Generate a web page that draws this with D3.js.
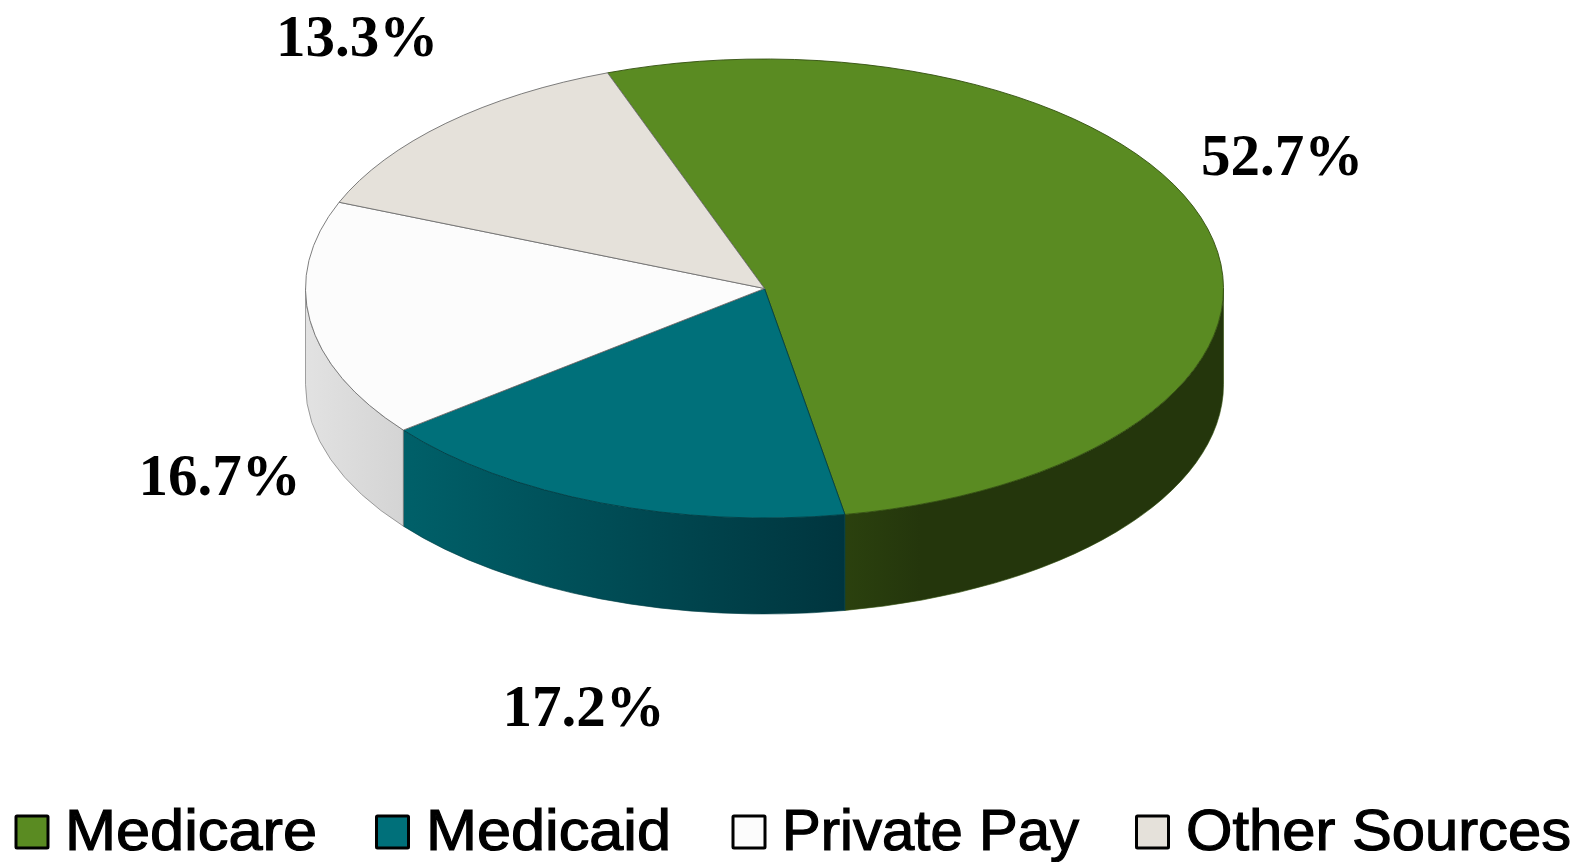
<!DOCTYPE html>
<html><head><meta charset="utf-8">
<script src="https://cdn.jsdelivr.net/npm/d3@7/dist/d3.min.js"></script>
<style>html,body{margin:0;padding:0;background:#fff;overflow:hidden}svg{display:block}</style>
</head><body><svg id="c" width="1575" height="862"></svg>
<script>
const categories=["Medicare","Medicaid","Private Pay","Other Sources"];
const shares=[52.7,17.2,16.7,13.3];
const shareLabels=["52.7%","17.2%","16.7%","13.3%"];
const topColors=["#5a8b22","#00707a","#fcfcfc","#e5e1da"];
const sideStart=["#2b410e","#006069","#e2e2e2","#c8c5bf"];
const sideEnd=["#24360c","#00353e","#d4d4d4","#c8c5bf"];
const edgeColors=["#33500f","#003f46","#707070","#707070"];
const labelX=[1282,583.5,219.5,357];
const labelY=[175,726,495,56];
const legendSwatchX=[16,376.5,733,1136.5];
const legendTextX=[65,426,782,1186];
const legendTextW=[252,245,297,385];

const cx=764.5,cy=288.5,rx=459,ry=229.5,depth=96;
const svg=d3.select("#c");
const defs=svg.append("defs");
const startAngle=-20*Math.PI/180;
const pie=d3.pie().value(d=>d).sort(null).startAngle(startAngle).endAngle(startAngle+2*Math.PI);
const arcs=pie(shares);
const px=d3.scaleLinear().domain([-1,1]).range([cx-rx,cx+rx]);
const py=d3.scaleLinear().domain([-1,1]).range([cy-ry,cy+ry]);
const ptX=a=>px(Math.sin(a)), ptY=a=>py(-Math.cos(a));

// side walls: only the part of each slice facing the viewer (angles PI/2..3PI/2)
arcs.forEach((d,i)=>{
  const a0=Math.max(d.startAngle,Math.PI/2), a1=Math.min(d.endAngle,3*Math.PI/2);
  if(a1<=a0) return;
  const x0=ptX(a0),x1=ptX(a1),y0=ptY(a0),y1=ptY(a1);
  const left=Math.min(x0,x1), right=Math.max(x0,x1);
  const g=defs.append("linearGradient").attr("id","side"+i)
    .attr("gradientUnits","userSpaceOnUse")
    .attr("x1",left).attr("x2",right).attr("y1",0).attr("y2",0);
  g.append("stop").attr("offset",0).attr("stop-color",sideStart[i]);
  g.append("stop").attr("offset",i===0?0.2:1).attr("stop-color",sideEnd[i]);
  const dStr=`M${x0},${y0}A${rx},${ry} 0 0 1 ${x1},${y1}L${x1},${y1+depth}A${rx},${ry} 0 0 0 ${x0},${y0+depth}Z`;
  svg.append("path").attr("d",dStr).attr("fill",`url(#side${i})`)
    .attr("stroke",edgeColors[i]).attr("stroke-width",0.8).attr("stroke-opacity",0.8);
});

// top face
const arc=d3.arc().innerRadius(0).outerRadius(rx);
const face=svg.append("g").attr("transform",`translate(${cx},${cy}) scale(1,${ry/rx})`);
face.selectAll("path").data(arcs).join("path")
  .attr("d",arc).attr("fill",(d,i)=>topColors[i])
  .attr("stroke",(d,i)=>edgeColors[i]).attr("stroke-width",1).attr("stroke-opacity",0.9)
  .attr("vector-effect","non-scaling-stroke");

// value labels
svg.selectAll("text.val").data(shareLabels).join("text").attr("class","val")
  .attr("x",(d,i)=>labelX[i]).attr("y",(d,i)=>labelY[i]).attr("text-anchor","middle")
  .attr("font-family","'Liberation Serif',serif").attr("font-weight","bold").attr("font-size",59)
  .attr("fill","#000").text(d=>d);

// legend
const lg=svg.append("g");
categories.forEach((c,i)=>{
  lg.append("rect").attr("x",legendSwatchX[i]).attr("y",816).attr("width",32).attr("height",32)
    .attr("fill",topColors[i]).attr("stroke","#000").attr("stroke-width",3).attr("rx",1);
  lg.append("text").attr("x",legendTextX[i]).attr("y",850)
    .attr("font-family","'Liberation Sans',sans-serif").attr("font-size",57)
    .attr("textLength",legendTextW[i]).attr("lengthAdjust","spacingAndGlyphs")
    .attr("fill","#000").attr("stroke","#000").attr("stroke-width",1.2).text(c);
});
</script></body></html>
